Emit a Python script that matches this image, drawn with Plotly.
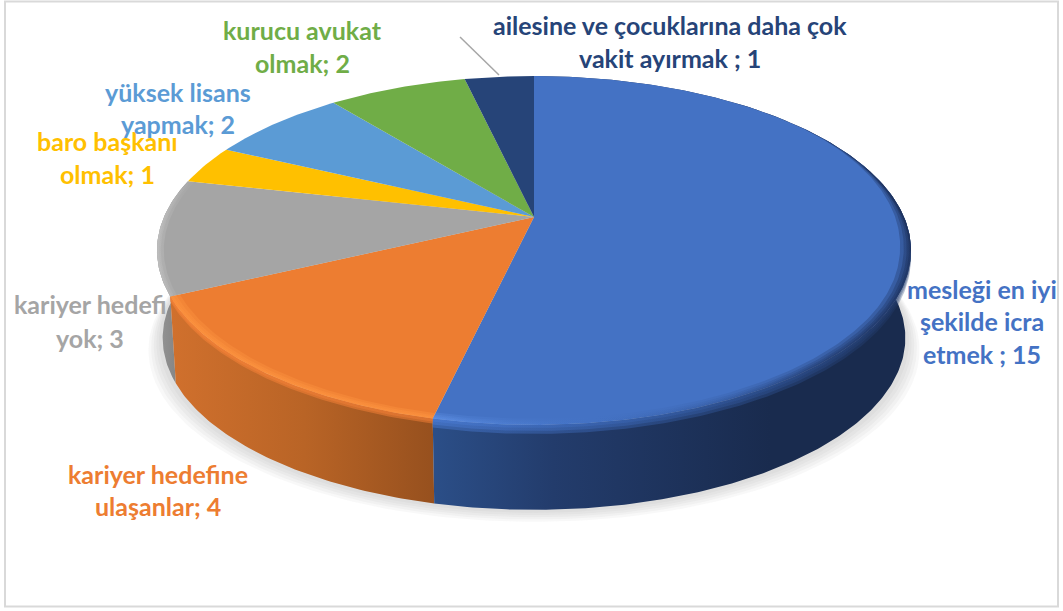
import numpy as np
import plotly.graph_objects as go

# ---- data ----
categories = ["mesleği en iyi şekilde icra etmek", "kariyer hedefine ulaşanlar", "kariyer hedefi yok",
              "baro başkanı olmak", "yüksek lisans yapmak", "kurucu avukat olmak",
              "ailesine ve çocuklarına daha çok vakit ayırmak"]
values = [15, 4, 3, 1, 2, 2, 1]
colors = ["#4472C4", "#ED7D31", "#A5A5A5", "#FFC000", "#5B9BD5", "#70AD47", "#264478"]
label_lines = [["mesleği en iyi", "şekilde icra", "etmek ; 15"],
               ["kariyer hedefine", "ulaşanlar; 4"],
               ["kariyer hedefi", "yok; 3"],
               ["baro başkanı", "olmak; 1"],
               ["yüksek lisans", "yapmak; 2"],
               ["kurucu avukat", "olmak; 2"],
               ["ailesine ve çocuklarına daha çok", "vakit ayırmak ; 1"]]

# ---- layout constants ----
W, H = 1063, 611
CX, CY = 534, 217
A, B, K = 370, 168, 0.192
DEPTH, BOTTOM_SCALE = 88, 0.985
label_x = [982, 158, 90, 107, 178, 302, 670]
label_y = [[289, 321, 354], [474, 506], [304, 338], [141, 174], [92, 124], [30, 63], [25, 58]]
FS = 25

def rim(theta, scale=1.0):
    u, v = np.sin(theta), np.cos(theta)
    w = 1 + K * v
    return CX + scale * A * u / w, CY - scale * B * v / w

def arc(a, b):
    return np.linspace(a, b, max(3, int(abs(b - a) * 80)))

edges = np.concatenate([[0], np.cumsum(values)]) / sum(values) * 2 * np.pi
fig = go.Figure()

def poly(x, y, color=None, grad=None):
    kw = dict(x=list(x), y=list(y), mode="lines", fill="toself", line=dict(width=0),
              hoverinfo="skip", showlegend=False)
    if grad:
        kw["fillgradient"] = dict(type="horizontal", start=grad[0], stop=grad[1], colorscale=grad[2])
        kw["fillcolor"] = "rgba(0,0,0,0)"
    else:
        kw["fillcolor"] = color
    fig.add_trace(go.Scatter(**kw))

def bottom(theta):
    x, y = rim(theta, BOTTOM_SCALE)
    return x, y + DEPTH

# soft shadow under the disc
all_t = np.linspace(0, 2 * np.pi, 240)
for grow in [16, 13, 10, 7, 4]:
    x, y = bottom(all_t)
    poly(x + (x - CX) * grow / 420, y + grow * 0.75, "rgba(120,120,120,0.05)")

# side walls
wall_grad = {
    0: (436, 770, [[0, "rgb(43,78,135)"], [0.35, "rgb(35,60,108)"], [1, "rgb(25,43,78)"]]),
    1: (172, 436, [[0, "rgb(208,112,45)"], [0.5, "rgb(185,100,38)"], [1, "rgb(150,80,30)"]]),
    2: (157, 180, [[0, "rgb(150,150,150)"], [1, "rgb(130,130,130)"]]),
}
for i in [2, 1, 0]:
    t = arc(edges[i], edges[i + 1])
    rx, ry = rim(t)
    bx, by = bottom(t)
    poly(np.concatenate([rx, bx[::-1]]), np.concatenate([ry, by[::-1]]), grad=wall_grad[i])

# top faces
for i, c in enumerate(colors):
    t = arc(edges[i], edges[i + 1])
    rx, ry = rim(t)
    poly(np.concatenate([[CX], rx]), np.concatenate([[CY], ry]), c)

def smooth(t, fade):
    if fade is None:
        return np.ones_like(t)
    a = np.clip((t - fade[0]) / (fade[1] - fade[0]), 0, 1)
    return a * a * (3 - 2 * a)

# bevel along the rim: stacked translucent bands give a soft edge
def band(t, inset, a, b, cs, fade=None):
    ox, oy = rim(t)
    amount = smooth(t, fade)
    u, v = np.sin(t), np.cos(t)
    w = 1 + K * v
    ix = CX + (1 - inset * amount) * A * u / w
    iy = CY - (1 - inset * amount) * B * v / w
    poly(np.concatenate([ox, ix[::-1]]), np.concatenate([oy, iy[::-1]]), grad=(a, b, cs))

# rounded lip that laps from the top face over the wall
def lip(t, drop, a, b, cs, fade=None):
    ox, oy = rim(t)
    d = drop * smooth(t, fade)
    poly(np.concatenate([ox, ox[::-1]]), np.concatenate([oy, (oy + d)[::-1]]), grad=(a, b, cs))

t0 = arc(edges[0], edges[1])
t0 = t0[t0 > 0.2 * np.pi]
for drop in [9, 6, 3]:
    # fade runs from the right side round to the front, so the lip widens along the arc
    lip(t0, drop, 434, 911,
        [[0, "rgba(75,125,215,0.45)"], [0.4, "rgba(60,105,185,0.4)"], [0.75, "rgba(45,80,145,0.4)"],
         [1, "rgba(35,60,110,0.3)"]],
        fade=(0.3 * np.pi, 0.65 * np.pi))
for inset in [0.03, 0.02, 0.012, 0.006]:
    band(t0, inset, 434, 911,
         [[0, "rgba(100,150,235,0.25)"], [0.3, "rgba(70,120,205,0.06)"], [0.6, "rgba(35,62,115,0.1)"],
          [0.8, "rgba(25,45,88,0.22)"], [1, "rgba(22,38,75,0.3)"]],
         fade=(0.25 * np.pi, 0.6 * np.pi))

t1 = arc(edges[1], edges[2])
for drop in [5, 3]:
    lip(t1, drop, 172, 436, [[0, "rgba(245,130,55,0.6)"], [1, "rgba(230,120,50,0.6)"]])
for inset in [0.026, 0.016, 0.008]:
    band(t1, inset, 172, 436, [[0, "rgba(255,150,65,0.35)"], [1, "rgba(255,150,65,0.35)"]])

t2 = arc(edges[2], edges[3])
for inset in [0.018, 0.01, 0.005]:
    band(t2, inset, 157, 190, [[0, "rgba(195,195,195,0.4)"], [1, "rgba(185,185,185,0.1)"]])

# leader line for the smallest back slice
fig.add_shape(type="line", x0=460, y0=37, x1=499, y1=75, line=dict(color="#A6A6A6", width=1.5), layer="above")
# chart frame
fig.add_shape(type="rect", x0=5, y0=1.5, x1=1058, y1=606.5, line=dict(color="#D9D9D9", width=2), layer="below")

for lines, lx, ys, c in zip(label_lines, label_x, label_y, colors):
    for text, ly in zip(lines, ys):
        fig.add_annotation(x=lx, y=ly, text=f"<b>{text}</b>", showarrow=False, xanchor="center", yanchor="middle",
                           font=dict(family="Lato", size=FS, color=c))

fig.update_layout(width=W, height=H, margin=dict(l=0, r=0, t=0, b=0), paper_bgcolor="white", plot_bgcolor="white",
                  showlegend=False,
                  xaxis=dict(range=[0, W], visible=False, fixedrange=True),
                  yaxis=dict(range=[H, 0], visible=False, fixedrange=True))
fig.write_html("out.html", config=dict(displayModeBar=False),
               post_script="document.body.style.margin='0';document.body.style.overflow='hidden';")
